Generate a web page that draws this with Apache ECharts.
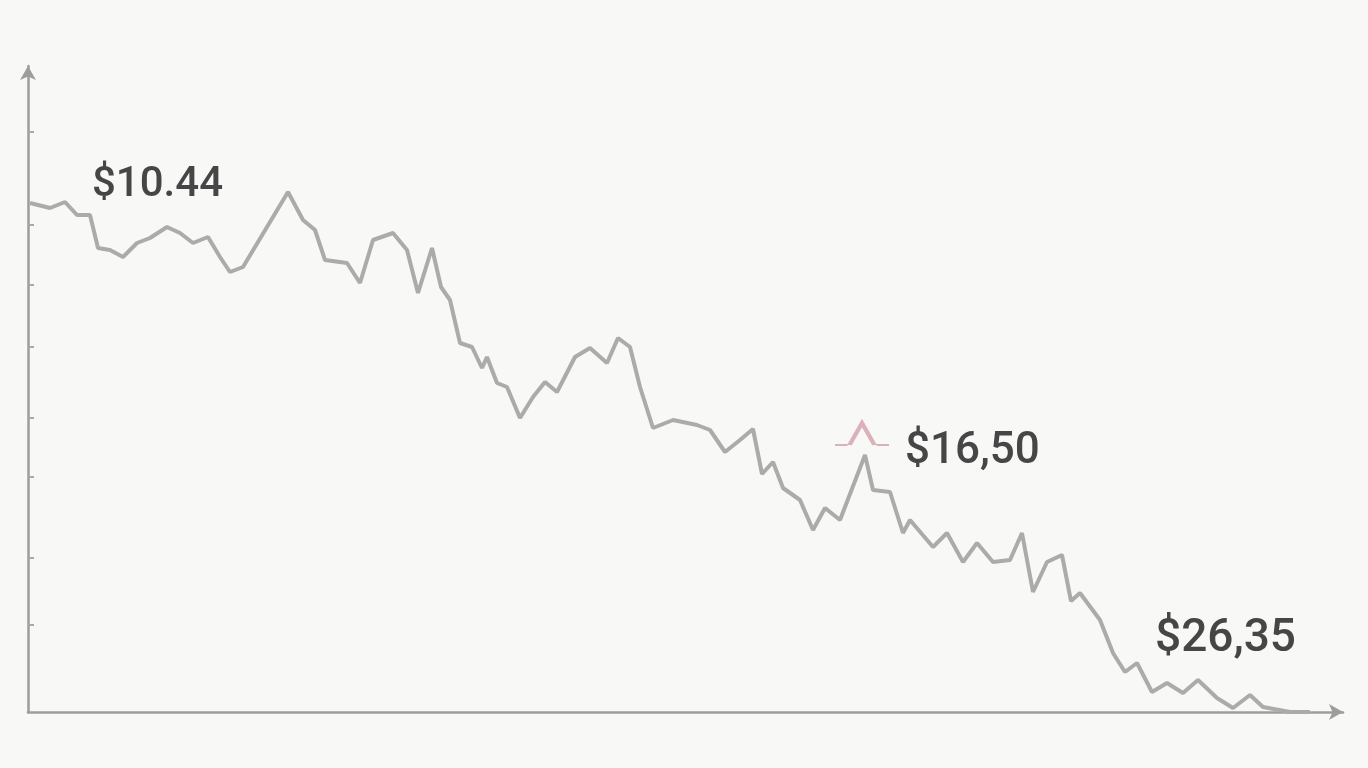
<!DOCTYPE html>
<html>
<head>
    <meta charset="utf-8">
    <script src="https://cdn.jsdelivr.net/npm/echarts@6/dist/echarts.min.js"></script>
    <style>
        html, body { margin: 0; padding: 0; background: #f8f8f7; }
    </style>
</head>
<body>
    <div id="main" style="width:1368px;height:768px;"></div>
</body>
<script type="text/javascript">
    // price path (x = time step, y = height above baseline)
    var xValues = [
        2, 22, 37, 49, 62, 70, 82, 95, 109, 122,
        139, 152, 165, 180, 192, 202, 215, 239, 260, 275,
        287, 297, 319, 332, 345, 365, 379, 390, 404, 413,
        422, 432, 444, 454, 459, 469, 479, 492, 505, 517,
        529, 547, 562, 579, 590, 602, 612, 625, 645, 669,
        682, 697, 712, 725, 734, 745, 755, 772, 785, 797,
        812, 837, 845, 862, 875, 882, 905, 919, 935, 949,
        965, 982, 994, 1005, 1019, 1034, 1043, 1052, 1072, 1085,
        1097, 1109, 1124, 1139, 1155, 1170, 1189, 1205, 1222, 1235,
        1262, 1282
    ];
    var yValues = [
        509, 504, 510, 497, 497, 464, 462, 455, 469, 474,
        485, 479, 469, 475, 455, 440, 445, 485, 520, 492,
        482, 452, 449, 429, 472, 479, 462, 419, 464, 425,
        412, 369, 365, 344, 355, 329, 325, 294, 315, 330,
        320, 355, 364, 349, 374, 365, 325, 284, 292, 287,
        282, 260, 272, 283, 238, 250, 224, 212, 182, 204,
        192, 257, 222, 220, 179, 192, 165, 179, 150, 169,
        150, 152, 179, 120, 150, 157, 111, 119, 92, 59,
        40, 49, 20, 29, 19, 32, 14, 4, 17, 5,
        0, 0
    ];
    // small pink marker above the middle peak
    var markerPoint = [834, 278];
    // irregular tick marks on the vertical axis
    var yTicks = [87, 154, 235, 294, 365, 427, 487, 580];
    // annotations
    var labelTexts = ['$10.44', '$16,50', '$26,35'];

    var myChart = echarts.init(document.getElementById("main"));

    var lineData = xValues.map(function (x, i) {
        return [x, yValues[i]];
    });

    var axisColor = '#9d9d9d';

    myChart.setOption({
        backgroundColor: '#f8f8f7',
        animation: false,
        grid: {
            left: 28,
            right: 25,
            top: 66,
            bottom: 56
        },
        xAxis: {
            type: 'value',
            min: 0,
            max: 1315,
            splitLine: { show: false },
            axisLabel: { show: false },
            axisTick: { show: false },
            axisLine: {
                show: true,
                symbol: ['none', 'arrow'],
                symbolSize: [12, 14],
                lineStyle: { color: axisColor, width: 2.5 }
            }
        },
        yAxis: {
            type: 'value',
            min: 0,
            max: 646,
            splitLine: { show: false },
            axisLabel: { show: false },
            axisTick: {
                show: true,
                inside: true,
                length: 6,
                customValues: yTicks,
                lineStyle: { color: '#a8a8a8', width: 2 }
            },
            axisLine: {
                show: true,
                symbol: ['none', 'arrow'],
                symbolSize: [12, 14],
                lineStyle: { color: axisColor, width: 2.5 }
            }
        },
        series: [{
            type: 'line',
            data: lineData,
            showSymbol: false,
            clip: false,
            lineStyle: {
                color: '#ababab',
                width: 4
            }
        }, {
            type: 'scatter',
            data: [markerPoint],
            symbol: 'path://M0,20 L12,20 M14,20 L26,2 L38,20 M40,20 L52,20',
            symbolSize: [54, 22],
            itemStyle: {
                color: 'rgba(0,0,0,0)',
                borderColor: '#d3a0aa',
                borderWidth: 3
            }
        }],
        graphic: [{
            type: 'text',
            left: 92,
            top: 164,
            style: {
                text: labelTexts[0],
                fill: '#464646',
                font: '500 42px Roboto'
            }
        }, {
            type: 'text',
            left: 905,
            top: 430,
            style: {
                text: labelTexts[1],
                fill: '#464646',
                font: '500 44px Roboto'
            }
        }, {
            type: 'text',
            left: 1155,
            top: 616,
            style: {
                text: labelTexts[2],
                fill: '#464646',
                font: '500 46px Roboto'
            }
        }]
    });
</script>
</html>
